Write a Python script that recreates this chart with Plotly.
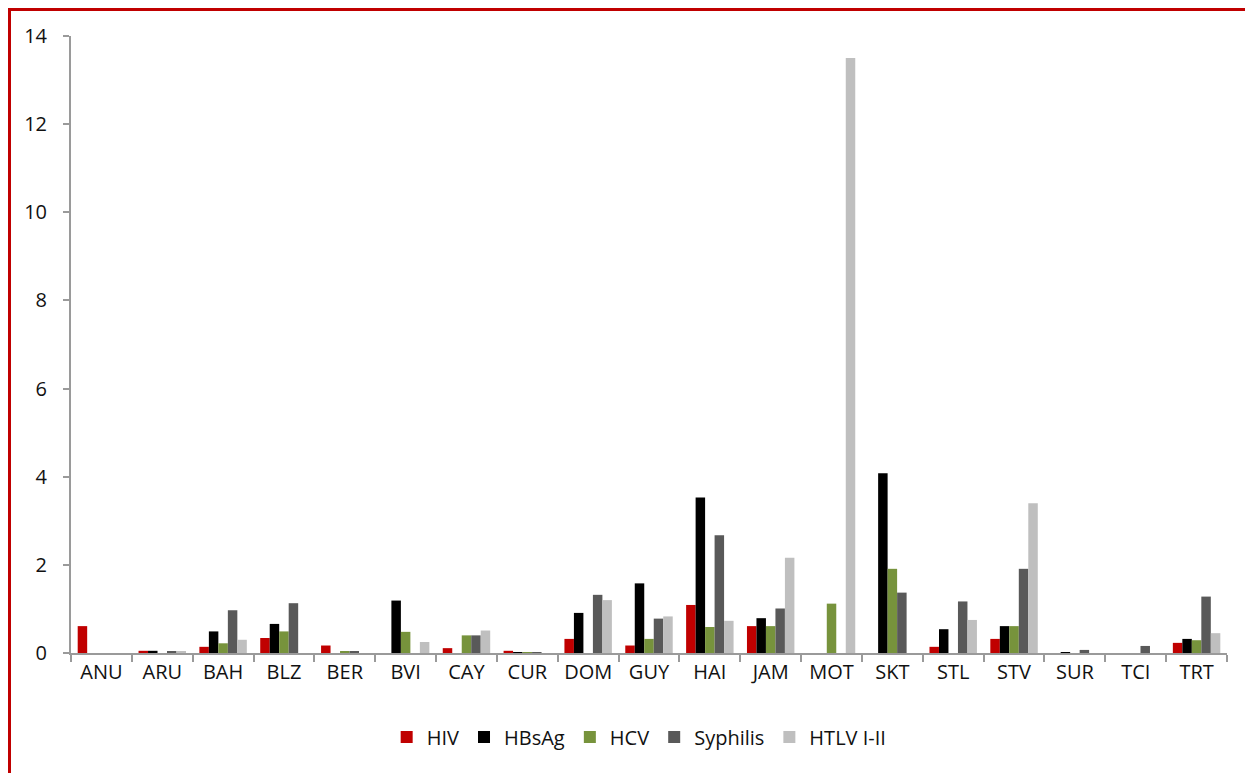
import plotly.graph_objects as go

categories = ["ANU", "ARU", "BAH", "BLZ", "BER", "BVI", "CAY", "CUR", "DOM", "GUY",
              "HAI", "JAM", "MOT", "SKT", "STL", "STV", "SUR", "TCI", "TRT"]

hiv      = [0.61, 0.05, 0.14, 0.34, 0.17, 0.00, 0.11, 0.05, 0.32, 0.17,
            1.09, 0.61, 0.00, 0.00, 0.14, 0.32, 0.00, 0.00, 0.23]
hbsag    = [0.00, 0.05, 0.49, 0.66, 0.00, 1.19, 0.00, 0.01, 0.91, 1.58,
            3.53, 0.79, 0.00, 4.08, 0.54, 0.61, 0.02, 0.00, 0.32]
hcv      = [0.00, 0.00, 0.22, 0.49, 0.03, 0.48, 0.40, 0.01, 0.00, 0.32,
            0.59, 0.61, 1.12, 1.91, 0.00, 0.61, 0.00, 0.00, 0.29]
syphilis = [0.00, 0.04, 0.97, 1.13, 0.03, 0.00, 0.40, 0.01, 1.32, 0.78,
            2.67, 1.01, 0.00, 1.37, 1.17, 1.91, 0.07, 0.16, 1.28]
htlv     = [0.00, 0.03, 0.30, 0.00, 0.00, 0.25, 0.51, 0.00, 1.20, 0.83,
            0.73, 2.16, 13.50, 0.00, 0.75, 3.40, 0.00, 0.00, 0.45]

series = [
    ("HIV", hiv, "#C00000"),
    ("HBsAg", hbsag, "#000000"),
    ("HCV", hcv, "#77933C"),
    ("Syphilis", syphilis, "#595959"),
    ("HTLV I-II", htlv, "#BFBFBF"),
]

y_ticks = [0, 2, 4, 6, 8, 10, 12, 14]

FONT = "Open Sans, Noto Sans, sans-serif"

# page has an 8px body margin; figure coordinates are offset accordingly
OFF = 8
L, T, R_EDGE, B_EDGE = 71 - OFF, 36 - OFF, 1227 - OFF, 653 - OFF
W, H = 1253 - OFF, 773 - OFF
PW, PH = R_EDGE - L, B_EDGE - T

fig = go.Figure()
for name, vals, color in series:
    fig.add_trace(go.Bar(x=categories, y=vals, name=name,
                         marker=dict(color=color, line=dict(width=0))))

# frame: drawn just inside the figure edge (in figure pixels)
fx0, fy0 = 1.5, 1.5

fig.update_layout(
    width=W, height=H,
    barmode="group", bargap=0.22, bargroupgap=0,
    plot_bgcolor="white", paper_bgcolor="white",
    margin=dict(l=L, r=W - R_EDGE, t=T, b=H - B_EDGE),
    font=dict(family=FONT, size=20, color="#111111"),
    showlegend=True,
    legend=dict(orientation="h", x=0.4915, xanchor="center", y=-(737 - 653) / PH,
                yanchor="middle", font=dict(family=FONT, size=20, color="#111111"),
                itemwidth=30, traceorder="normal"),
    xaxis=dict(type="category", showline=True, linecolor="#9A9A9A", linewidth=2,
               ticks="outside", tickson="boundaries", ticklen=7, tickcolor="#9A9A9A",
               tickwidth=2, showgrid=False, zeroline=False),
    yaxis=dict(range=[0, 14], tickvals=y_ticks, showline=True, linecolor="#9A9A9A",
               linewidth=2, ticks="outside", ticklen=6, tickcolor="#9A9A9A", tickwidth=2,
               showgrid=False, zeroline=False, ticklabelstandoff=12),
    shapes=[dict(type="rect", xref="paper", yref="paper",
                 x0=(fx0 - L) / PW, x1=(W + 30 - L) / PW,
                 y0=-(H + 30 - B_EDGE) / PH, y1=(B_EDGE - fy0) / PH,
                 line=dict(color="#C00000", width=3), fillcolor="rgba(0,0,0,0)",
                 layer="above")],
)

fig.write_html("out.html")
